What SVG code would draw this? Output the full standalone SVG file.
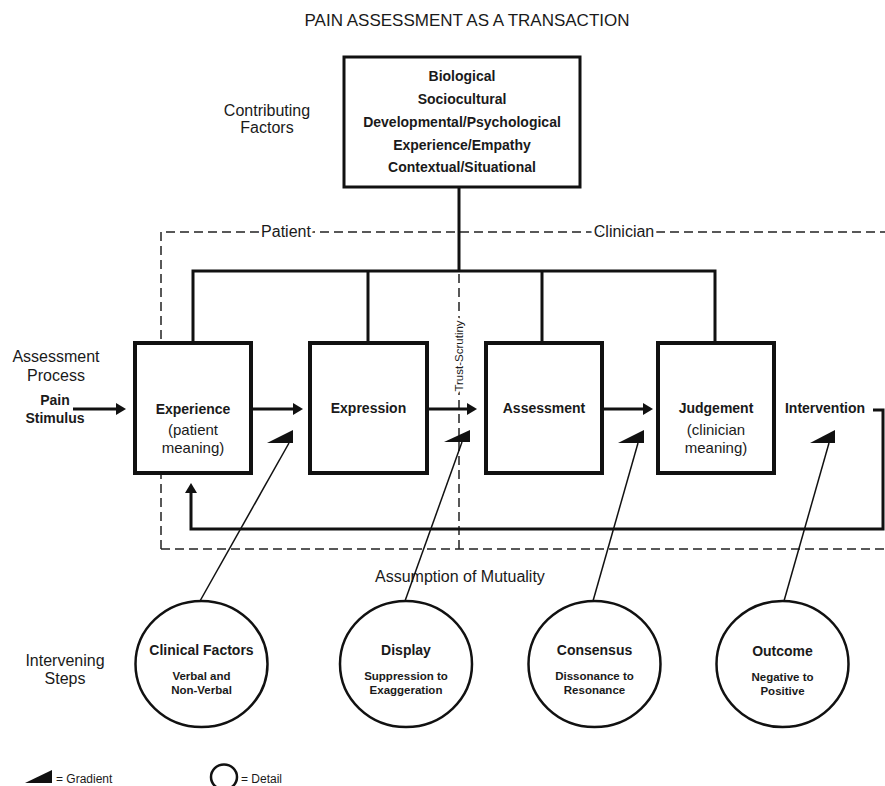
<svg xmlns="http://www.w3.org/2000/svg" width="885" height="786" viewBox="0 0 885 786">
<style>
text{font-family:"Liberation Sans",Arial,Helvetica,sans-serif;fill:#1a1a1a}
.b{font-weight:bold}
.m{text-anchor:middle}
.box{fill:#fff;stroke:#111;stroke-width:4}
.ln{stroke:#111;stroke-width:3;fill:none}
.thin{stroke:#111;stroke-width:1.5;fill:none}
.dash{stroke:#222;stroke-width:1.5;stroke-dasharray:9 5;fill:none}
.circ{fill:#fff;stroke:#111;stroke-width:2.5}
.wedge{fill:#111}
.bg{paint-order:stroke;stroke:#fff;stroke-width:6;stroke-linejoin:round}
</style>
<defs>
<marker id="ah" markerUnits="userSpaceOnUse" markerWidth="11" markerHeight="12" refX="2" refY="6" orient="auto">
<path d="M0,0 L10,6 L0,12 z" fill="#111"/>
</marker>
</defs>
<rect width="885" height="786" fill="#fff"/>

<text x="467" y="26" class="m" font-size="17">PAIN ASSESSMENT AS A TRANSACTION</text>

<!-- side labels -->
<g id="labels" font-size="16">
<text x="267" y="116" class="m">Contributing</text>
<text x="267" y="133" class="m">Factors</text>
<text x="56" y="362" class="m">Assessment</text>
<text x="56" y="381" class="m">Process</text>
<text x="55" y="405" class="m b" font-size="14">Pain</text>
<text x="55" y="423" class="m b" font-size="14">Stimulus</text>
<text x="65" y="666" class="m">Intervening</text>
<text x="65" y="684" class="m">Steps</text>
<text x="375" y="582">Assumption of Mutuality</text>
</g>

<!-- patient / clinician regions -->
<g id="regions">
<path class="dash" d="M161,549 V232 H885"/>
<path class="dash" d="M161,549 H885"/>
<path class="dash" d="M459,232 V549"/>
<text x="286" y="237" class="m bg" font-size="16">Patient</text>
<text x="624" y="237" class="m bg" font-size="16">Clinician</text>
<text transform="translate(463,356) rotate(-90)" class="m bg" font-size="11.5">Trust-Scrutiny</text>
</g>

<!-- connectors -->
<g id="connectors">
<path class="ln" d="M459,188 V271"/>
<path class="ln" d="M193,343 V271 H715 V343"/>
<path class="ln" d="M368,271 V343"/>
<path class="ln" d="M542,271 V343"/>
<path class="ln" d="M73,409 H118" marker-end="url(#ah)"/>
<path class="ln" d="M251,409 H295" marker-end="url(#ah)"/>
<path class="ln" d="M427,409 H469" marker-end="url(#ah)"/>
<path class="ln" d="M602,409 H645" marker-end="url(#ah)"/>
<path class="ln" d="M873,410 H883 V529 H191 V491" marker-end="url(#ah)"/>
<line class="thin" x1="200" y1="601" x2="289" y2="443"/>
<line class="thin" x1="405" y1="601" x2="462" y2="442"/>
<line class="thin" x1="593" y1="601" x2="638" y2="443"/>
<line class="thin" x1="784" y1="601" x2="829" y2="443"/>
<polygon class="wedge" points="267,443 293,443 293,430"/>
<polygon class="wedge" points="444,442 470,442 470,430"/>
<polygon class="wedge" points="618,443 644,443 644,430"/>
<polygon class="wedge" points="810,443 835,443 835,430"/>
</g>

<g id="factors">
<rect x="344" y="57" width="236" height="130" fill="#fff" stroke="#111" stroke-width="3"/>
<text x="462" y="81" class="m b" font-size="14">Biological</text>
<text x="462" y="104" class="m b" font-size="14">Sociocultural</text>
<text x="462" y="127" class="m b" font-size="14">Developmental/Psychological</text>
<text x="462" y="150" class="m b" font-size="14">Experience/Empathy</text>
<text x="462" y="172" class="m b" font-size="14">Contextual/Situational</text>
</g>

<g id="experience">
<rect class="box" x="135" y="343" width="116" height="130"/>
<text x="193" y="414" class="m b" font-size="14">Experience</text>
<text x="193" y="435" class="m" font-size="15">(patient</text>
<text x="193" y="453" class="m" font-size="15">meaning)</text>
</g>
<g id="expression">
<rect class="box" x="310" y="343" width="117" height="130"/>
<text x="368.5" y="413" class="m b" font-size="14">Expression</text>
</g>
<g id="assessment">
<rect class="box" x="486" y="343" width="116" height="130"/>
<text x="544" y="413" class="m b" font-size="14">Assessment</text>
</g>
<g id="judgement">
<rect class="box" x="658" y="343" width="116" height="130"/>
<text x="716" y="413" class="m b" font-size="14">Judgement</text>
<text x="716" y="435" class="m" font-size="15">(clinician</text>
<text x="716" y="453" class="m" font-size="15">meaning)</text>
</g>
<g id="intervention">
<text x="825" y="413" class="m b" font-size="14">Intervention</text>
</g>

<g id="clinical-factors">
<ellipse class="circ" cx="201.5" cy="664" rx="66" ry="63"/>
<text x="201.5" y="655" class="m b" font-size="14">Clinical Factors</text>
<text x="201.5" y="680" class="m b" font-size="11.5">Verbal and</text>
<text x="201.5" y="694" class="m b" font-size="11.5">Non-Verbal</text>
</g>
<g id="display">
<ellipse class="circ" cx="406" cy="664" rx="66" ry="63"/>
<text x="406" y="655" class="m b" font-size="14">Display</text>
<text x="406" y="680" class="m b" font-size="11.5">Suppression to</text>
<text x="406" y="694" class="m b" font-size="11.5">Exaggeration</text>
</g>
<g id="consensus">
<ellipse class="circ" cx="594.5" cy="664" rx="66" ry="63"/>
<text x="594.5" y="655" class="m b" font-size="14">Consensus</text>
<text x="594.5" y="680" class="m b" font-size="11.5">Dissonance to</text>
<text x="594.5" y="694" class="m b" font-size="11.5">Resonance</text>
</g>
<g id="outcome">
<ellipse class="circ" cx="782.5" cy="664" rx="66" ry="63"/>
<text x="782.5" y="656" class="m b" font-size="14">Outcome</text>
<text x="782.5" y="681" class="m b" font-size="11.5">Negative to</text>
<text x="782.5" y="695" class="m b" font-size="11.5">Positive</text>
</g>

<g id="legend">
<polygon class="wedge" points="25,783 52,783 52,770"/>
<text x="56" y="783" font-size="12">= Gradient</text>
<ellipse class="circ" cx="224" cy="777" rx="13" ry="12.5"/>
<text x="241" y="783" font-size="12">= Detail</text>
</g>
</svg>
